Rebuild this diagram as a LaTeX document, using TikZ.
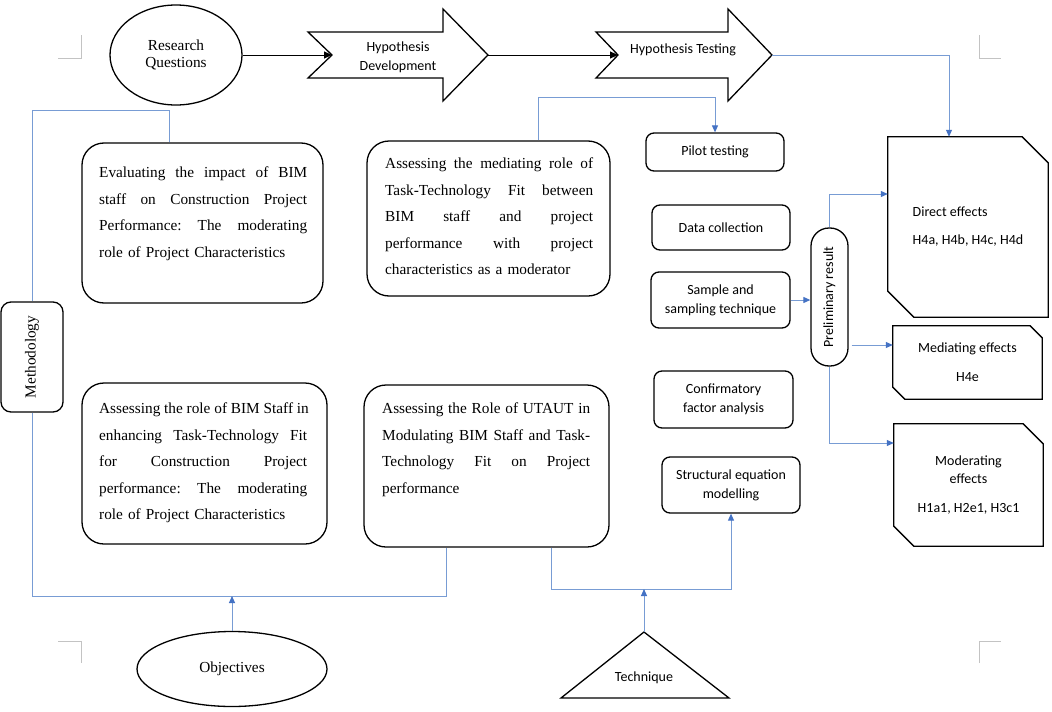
\documentclass[tikz,border=0pt]{standalone}
\usepackage{fontspec}
\setmainfont{Liberation Serif}
\newfontfamily\calfont{Carlito}
\usetikzlibrary{arrows.meta,shapes.geometric,calc}
\definecolor{lineblue}{RGB}{120,156,212}
\definecolor{arrowblue}{RGB}{68,114,196}
\definecolor{markgray}{RGB}{195,195,195}
\newcommand{\jline}[1]{\leavevmode\hbox to 208pt{\spaceskip=\fontdimen2\font plus 1fil\relax\xspaceskip=\spaceskip #1}}
\newcommand{\chamf}[2]{\draw[blk] (#1.north west) -- ($(#1.north east)+(-#2,0)$) -- ($(#1.north east)+(0,#2)$) -- (#1.south east) -- ($(#1.south west)+(#2,0)$) -- ($(#1.south west)+(0,-#2)$) -- cycle;}
\begin{document}
\begin{tikzpicture}[x=1pt,y=-1pt,
  blk/.style={draw=black, line width=1.3pt},
  bigbox/.style={blk, rounded corners=22pt, fill=white, inner sep=0pt},
  smallbox/.style={blk, rounded corners=8pt, fill=white, inner sep=0pt, font=\calfont\fontsize{14}{19}\selectfont, align=center},
  bodytext/.style={font=\fontsize{15.3}{26.6}\selectfont, align=left, text width=208pt, inner sep=0pt, anchor=north west},
  caltext/.style={font=\calfont\fontsize{14}{19}\selectfont, align=center, inner sep=0pt},
  sertext/.style={font=\fontsize{15.3}{17}\selectfont, align=center, inner sep=0pt},
  effnode/.style={inner sep=0pt, font=\calfont\fontsize{14}{18}\selectfont},
  blueline/.style={draw=lineblue, line width=1pt},
  barrow/.style={blueline, -{Triangle[color=arrowblue, length=7pt, width=6pt]}},
  karrow/.style={draw=black, line width=0.9pt, -{Triangle[length=8pt, width=7pt]}},
  cornermark/.style={draw=markgray, line width=1pt}]
\useasboundingbox (0,0) rectangle (1052,712);
\fill[white] (0,0) rectangle (1052,712);

% corner marks
\draw[cornermark] (58,58) -- (81,58) -- (81,35);
\draw[cornermark] (979,35) -- (979,58) -- (1001,58);
\draw[cornermark] (58,641) -- (81,641) -- (81,663);
\draw[cornermark] (979,663) -- (979,641) -- (1001,641);

% top row
\node[ellipse, blk, minimum width=132, minimum height=100, sertext] (rq) at (176,55) {Research\\Questions};
\draw[blk, fill=white] (308,32) -- (443,32) -- (443,9) -- (488,55) -- (443,101) -- (443,78) -- (308,78) -- (332,55) -- cycle;
\coordinate (hdnotch) at (332,55);
\coordinate (hdtip) at (488,55);
\node[caltext] (hdtext) at (398,57) {Hypothesis\\Development};
\draw[blk, fill=white] (596,32) -- (728,32) -- (728,9) -- (772,55) -- (728,101) -- (728,78) -- (596,78) -- (618,55) -- cycle;
\coordinate (htnotch) at (618,55);
\coordinate (httip) at (772,55);
\node[caltext] (httext) at (683,50) {Hypothesis Testing};
\draw[karrow] (rq.east) -- (hdnotch);
\draw[karrow] (hdtip) -- (htnotch);

% big boxes
\node[bigbox, minimum width=241, minimum height=160] (eval) at (202.5,223) {};
\node[bodytext] (evalt) at (99,166.5) {\jline{Evaluating the impact of BIM}\\\jline{staff on Construction Project}\\\jline{Performance: The moderating}\\role of Project Characteristics};

\node[bigbox, minimum width=243, minimum height=155] (tfit) at (488.5,218.5) {};
\node[bodytext] (tfitt) at (385,157.5) {\jline{Assessing the mediating role of}\\\jline{Task-Technology Fit between}\\\jline{BIM staff and project}\\\jline{performance with project}\\characteristics as a moderator};

\node[bigbox, minimum width=245, minimum height=161] (bimst) at (204.5,463.5) {};
\node[bodytext] (bimstt) at (99,402.5) {\jline{Assessing the role of BIM Staff in}\\\jline{enhancing Task-Technology Fit}\\\jline{for Construction Project}\\\jline{performance: The moderating}\\role of Project Characteristics};

\node[bigbox, minimum width=245, minimum height=162] (utaut) at (486.5,466) {};
\node[bodytext] (utautt) at (382,402.5) {\jline{Assessing the Role of UTAUT in}\\\jline{Modulating BIM Staff and Task-}\\\jline{Technology Fit on Project}\\performance};

% methodology
\node[blk, rounded corners=10pt, fill=white, minimum width=62, minimum height=110, inner sep=0pt] (meth) at (32,357) {};
\node[sertext, rotate=90] (metht) at (meth.center) {Methodology};

% small boxes
\node[smallbox, minimum width=138, minimum height=38] (pilot) at (715,152) {Pilot testing};
\node[smallbox, minimum width=138, minimum height=45] (datacol) at (721,227.5) {Data collection};
\node[smallbox, minimum width=139, minimum height=56] (sample) at (720.5,300) {Sample and\\sampling technique};
\node[smallbox, minimum width=139, minimum height=57] (cfa) at (723.5,399.5) {Confirmatory\\factor analysis};
\node[smallbox, minimum width=138, minimum height=56] (sem) at (731,485) {Structural equation\\modelling};

% preliminary pill
\node[blk, rounded corners=18pt, fill=white, minimum width=37, minimum height=138, inner sep=0pt] (pill) at (829.5,297) {};
\node[caltext, rotate=90] (pillt) at (pill.center) {Preliminary result};

% effect boxes
\node[effnode, minimum width=160, minimum height=180, align=left] (direct) at (968,227) {Direct effects\\[10pt]H4a, H4b, H4c, H4d};
\chamf{direct}{26}
\node[effnode, minimum width=149, minimum height=73, align=center] (medeff) at (967.5,362.5) {Mediating effects\\[11pt]H4e};
\chamf{medeff}{12}
\node[effnode, minimum width=149, minimum height=122, align=center] (modeff) at (968.5,485) {Moderating\\effects\\[11pt]H1a1, H2e1, H3c1};
\chamf{modeff}{20}

% objectives and technique
\node[ellipse, blk, minimum width=190, minimum height=75, sertext] (obj) at (232,669) {Objectives};
\coordinate (tapex) at (644,632);
\draw[blk] (tapex) -- (729,698) -- (561,698) -- cycle;
\node[caltext] (techt) at (644,678) {Technique};

% blue connectors
\coordinate (ltop) at (32,110);
\coordinate (lbot) at (32,596);
\coordinate (tj) at (644,589);
\draw[blueline] ($(eval.north west)+(88,0)$) |- (ltop) -- (meth.north);
\draw[blueline] (meth.south) -- (lbot) -| ($(utaut.south west)+(83,0)$);
\draw[barrow] (obj.north) -- (obj.north |- lbot);
\draw[blueline] ($(utaut.south west)+(188,0)$) |- (tj);
\draw[barrow] (tj) -| (sem.south);
\draw[barrow] (tapex) -- (tj);
\draw[barrow] ($(tfit.north west)+(172,0)$) -- ++(0,-43) -| (pilot.north);
\draw[barrow] (sample.east) -- (pill.west |- sample.east);
\draw[barrow] (pill.north) |- ([yshift=33pt]direct.west);
\coordinate (m1) at ([yshift=17.5pt]medeff.west);
\draw[barrow, shorten <=3pt] (pill.east |- m1) -- (m1);
\draw[barrow] (pill.south) |- ([yshift=42pt]modeff.west);
\draw[barrow] (httip) -| ([xshift=-19pt]direct.north);
\end{tikzpicture}
\end{document}
